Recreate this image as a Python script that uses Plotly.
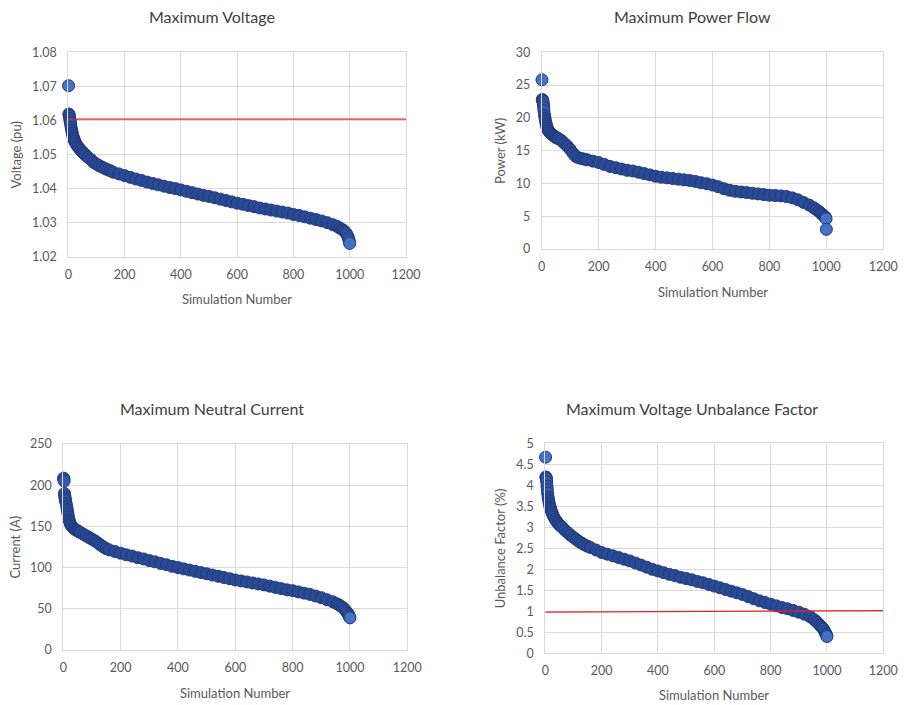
import plotly.graph_objects as go

# Simulation numbers (sampled along the sorted curves)
sim = [1, 2, 3, 4, 5, 6, 7, 8, 10, 12, 14, 16, 18, 20, 23, 26, 30, 35, 40, 45, 50, 55, 60,
       70, 80, 90, 100, 110, 120, 130, 140, 150, 160, 180, 200, 220, 240, 260, 280, 300,
       320, 340, 360, 380, 400, 420, 440, 460, 480, 500, 520, 540, 560, 580, 600, 620, 640,
       660, 680, 700, 720, 740, 760, 780, 800, 820, 840, 860, 880, 900, 920, 940, 955, 965,
       975, 982, 988, 992, 995, 997, 999, 1000]

voltage = [1.0702, 1.0619, 1.0616, 1.0612, 1.0607, 1.0601, 1.0595, 1.0590, 1.0580, 1.0571,
           1.0563, 1.0556, 1.0550, 1.0545, 1.0539, 1.0534, 1.0528, 1.0522, 1.0517, 1.0512,
           1.0507, 1.0503, 1.0499, 1.0492, 1.0485, 1.0477, 1.0472, 1.0467, 1.0463, 1.0459,
           1.0455, 1.0452, 1.0448, 1.0443, 1.0438, 1.0433, 1.0428, 1.0424, 1.0419, 1.0415,
           1.0411, 1.0407, 1.0403, 1.0400, 1.0396, 1.0392, 1.0388, 1.0384, 1.0380, 1.0377,
           1.0373, 1.0369, 1.0365, 1.0361, 1.0357, 1.0354, 1.0350, 1.0347, 1.0343, 1.0340,
           1.0337, 1.0334, 1.0331, 1.0328, 1.0324, 1.0321, 1.0317, 1.0313, 1.0309, 1.0305,
           1.0300, 1.0294, 1.0289, 1.0284, 1.0279, 1.0274, 1.0268, 1.0262, 1.0256, 1.0250,
           1.0244, 1.0239]

power = [25.8, 22.8, 22.7, 22.6, 22.4, 22.0, 21.6, 21.1, 20.4, 19.9, 19.4, 19.0, 18.7, 18.4,
         18.1, 17.9, 17.7, 17.5, 17.3, 17.2, 17.0, 16.9, 16.8, 16.5, 16.1, 15.7, 15.2, 14.6,
         14.1, 13.9, 13.8, 13.7, 13.6, 13.4, 13.2, 12.9, 12.6, 12.4, 12.2, 12.0, 11.9, 11.7,
         11.5, 11.3, 11.1, 10.95, 10.85, 10.75, 10.65, 10.55, 10.45, 10.3, 10.1, 9.95, 9.75,
         9.5, 9.2, 8.95, 8.8, 8.7, 8.6, 8.5, 8.4, 8.3, 8.2, 8.15, 8.1, 8.0, 7.8, 7.5, 7.1,
         6.7, 6.3, 6.0, 5.7, 5.4, 5.2, 5.0, 4.9, 4.8, 4.6, 3.0]

current = [208.5, 207.5, 205, 190, 187, 185, 183, 181, 178, 174, 170, 166, 162, 158, 155,
           152, 150, 148, 146.5, 145.5, 144.5, 143.5, 142.5, 140.5, 138.5, 136.5, 134.5,
           132.5, 130, 127.5, 125, 123, 121.5, 119.5, 117.5, 115.5, 114, 112, 110.5, 108.5,
           107, 105, 103.5, 101.5, 100, 98.5, 97, 95.5, 94, 92.5, 91, 89.5, 88, 86.5, 85,
           83.8, 82.6, 81.4, 80.2, 79, 77.5, 76, 74.5, 73, 72, 70.5, 69, 67.5, 65.5, 63.5,
           61, 58.5, 56, 54, 51.5, 49, 46.5, 44.5, 43, 41.5, 40, 39]

unbalance = [4.67, 4.20, 4.18, 4.15, 4.08, 3.98, 3.90, 3.82, 3.72, 3.64, 3.57, 3.51, 3.46,
             3.42, 3.36, 3.31, 3.25, 3.19, 3.14, 3.10, 3.06, 3.03, 3.00, 2.93, 2.87, 2.81,
             2.76, 2.71, 2.66, 2.62, 2.58, 2.55, 2.52, 2.46, 2.40, 2.36, 2.32, 2.28, 2.24,
             2.20, 2.15, 2.10, 2.05, 2.00, 1.96, 1.92, 1.88, 1.85, 1.81, 1.78, 1.75, 1.71,
             1.68, 1.64, 1.60, 1.56, 1.52, 1.48, 1.44, 1.40, 1.35, 1.30, 1.25, 1.21, 1.17,
             1.13, 1.09, 1.06, 1.02, 0.98, 0.93, 0.87, 0.80, 0.74, 0.67, 0.62, 0.57, 0.52,
             0.48, 0.45, 0.42, 0.40]

# Limit lines
limit_x = [0, 1200]
voltage_limit = [1.0604, 1.0604]
unbalance_limit = [0.98, 1.015]

titles = ["Maximum Voltage", "Maximum Power Flow", "Maximum Neutral Current",
          "Maximum Voltage Unbalance Factor"]
y_titles = ["Voltage (pu)", "Power (kW)", "Current (A)", "Unbalance Factor (%)"]
x_title = "Simulation Number"

# the page has an 8px body margin, so the figure is shifted by 8px
OFF = 8
W, H = 906, 705
FONT = "Lato, Open Sans, sans-serif"
TXT = "#595959"
GRID = "#D9D9D9"

# plot-area page-pixel boxes: left, right, top, bottom
boxes = [(68.3, 406.0, 52.3, 256.7),
         (541.7, 883.3, 52.3, 249.0),
         (63.3, 407.3, 444.0, 650.0),
         (545.3, 883.3, 443.3, 653.3)]
title_pos = [(211.7, 16.7), (692.3, 16.7), (212.0, 408.3), (692.3, 408.3)]
xtitle_y = [299.0, 291.7, 693.3, 695.0]
ytitle_x = [15.0, 499.3, 14.5, 500.0]
yranges = [(1.02, 1.08, 0.01), (0, 30, 5), (0, 250, 50), (0, 5, 0.5)]
series = [voltage, power, current, unbalance]


def px(x):
    return (x - OFF) / W


def py(y):
    return 1 - (y - OFF) / H


LIGHT = "#4472C4"
MID = "#3559AA"
DARK = "#2B4A95"

fig = go.Figure()
for i in range(4):
    xa = "x" if i == 0 else f"x{i+1}"
    ya = "y" if i == 0 else f"y{i+1}"
    n = len(sim)
    cols = [LIGHT if (k == 0 or k >= n - 2) else (MID if k < 8 or k >= n - 6 else DARK)
            for k in range(n)]
    fig.add_trace(go.Scatter(
        x=sim, y=series[i], mode="markers", xaxis=xa, yaxis=ya, cliponaxis=False,
        marker=dict(size=12, color=cols, line=dict(color="#1F3A7A", width=1)),
        showlegend=False))

fig.add_trace(go.Scatter(x=limit_x, y=voltage_limit, mode="lines", xaxis="x", yaxis="y",
                         line=dict(color="#E8212B", width=1.2), showlegend=False))
fig.add_trace(go.Scatter(x=limit_x, y=unbalance_limit, mode="lines", xaxis="x4", yaxis="y4",
                         line=dict(color="#E8212B", width=1.2), showlegend=False))

layout = dict(width=W, height=H, autosize=False, margin=dict(l=0, r=0, t=0, b=0, pad=0),
              paper_bgcolor="white", plot_bgcolor="white",
              font=dict(family=FONT, color=TXT, size=12))
annotations = []
for i, (l, r, t, b) in enumerate(boxes):
    sfx = "" if i == 0 else str(i + 1)
    lo, hi, dt = yranges[i]
    layout["xaxis" + sfx] = dict(
        domain=[px(l), px(r)], range=[0, 1200], dtick=200, tick0=0, automargin=False,
        anchor="y" + sfx, showgrid=True, gridcolor=GRID, gridwidth=1,
        showline=True, linecolor=GRID, mirror=True, zeroline=False,
        ticks="outside", ticklen=6, tickcolor="rgba(0,0,0,0)",
        tickfont=dict(size=12.5, color=TXT, family=FONT), fixedrange=True)
    layout["yaxis" + sfx] = dict(
        domain=[py(b), py(t)], range=[lo, hi], dtick=dt, tick0=lo, automargin=False,
        anchor="x" + sfx, showgrid=True, gridcolor=GRID, gridwidth=1,
        showline=True, linecolor=GRID, mirror=True, zeroline=False,
        ticks="outside", ticklen=8, tickcolor="rgba(0,0,0,0)",
        tickformat=".2f" if i == 0 else None,
        tickfont=dict(size=12.5, color=TXT, family=FONT), fixedrange=True)
    cy = (t + b) / 2
    annotations.append(dict(text=titles[i], x=px(title_pos[i][0]), y=py(title_pos[i][1]),
                            xref="paper", yref="paper", showarrow=False,
                            xanchor="center", yanchor="middle",
                            font=dict(size=16, color="#404040", family=FONT)))
    annotations.append(dict(text=x_title, x=px((l + r) / 2), y=py(xtitle_y[i]),
                            xref="paper", yref="paper", showarrow=False,
                            xanchor="center", yanchor="middle",
                            font=dict(size=13, color=TXT, family=FONT)))
    annotations.append(dict(text=y_titles[i], x=px(ytitle_x[i]), y=py(cy),
                            xref="paper", yref="paper", showarrow=False,
                            textangle=-90, xanchor="center", yanchor="middle",
                            font=dict(size=13, color=TXT, family=FONT)))
layout["annotations"] = annotations
fig.update_layout(**layout)

fig.write_html("out.html")
